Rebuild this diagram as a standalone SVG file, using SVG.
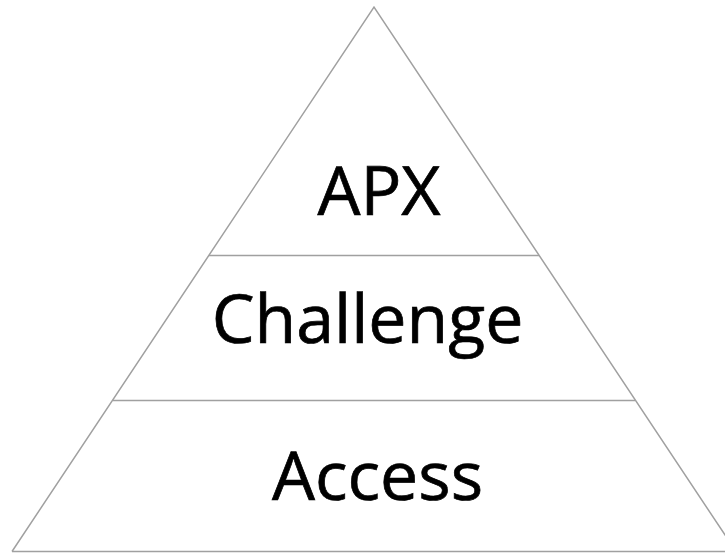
<svg xmlns="http://www.w3.org/2000/svg" width="725" height="553" viewBox="0 0 725 553">
<style>
.ln{stroke:#a0a0a0;stroke-width:1.5;fill:none}
.lbl{font-family:"Open Sans","Noto Sans",sans-serif;font-size:68px;fill:#000;stroke:#000;stroke-width:0.7;text-anchor:middle}
</style>
<rect width="725" height="553" fill="#fff"/>
<g id="connectors">
<path class="ln" d="M12,551.5 L374,7 L736,551.5"/>
</g>
<g id="apx">
<line class="ln" x1="209" y1="255.5" x2="539" y2="255.5"/>
<text class="lbl" x="379" y="215">APX</text>
</g>
<g id="challenge">
<line class="ln" x1="113" y1="400.5" x2="635" y2="400.5"/>
<text class="lbl" x="367.5" y="343">Challenge</text>
</g>
<g id="access">
<line class="ln" x1="12" y1="551.5" x2="725" y2="551.5"/>
<text class="lbl" x="377.5" y="500">Access</text>
</g>
</svg>
